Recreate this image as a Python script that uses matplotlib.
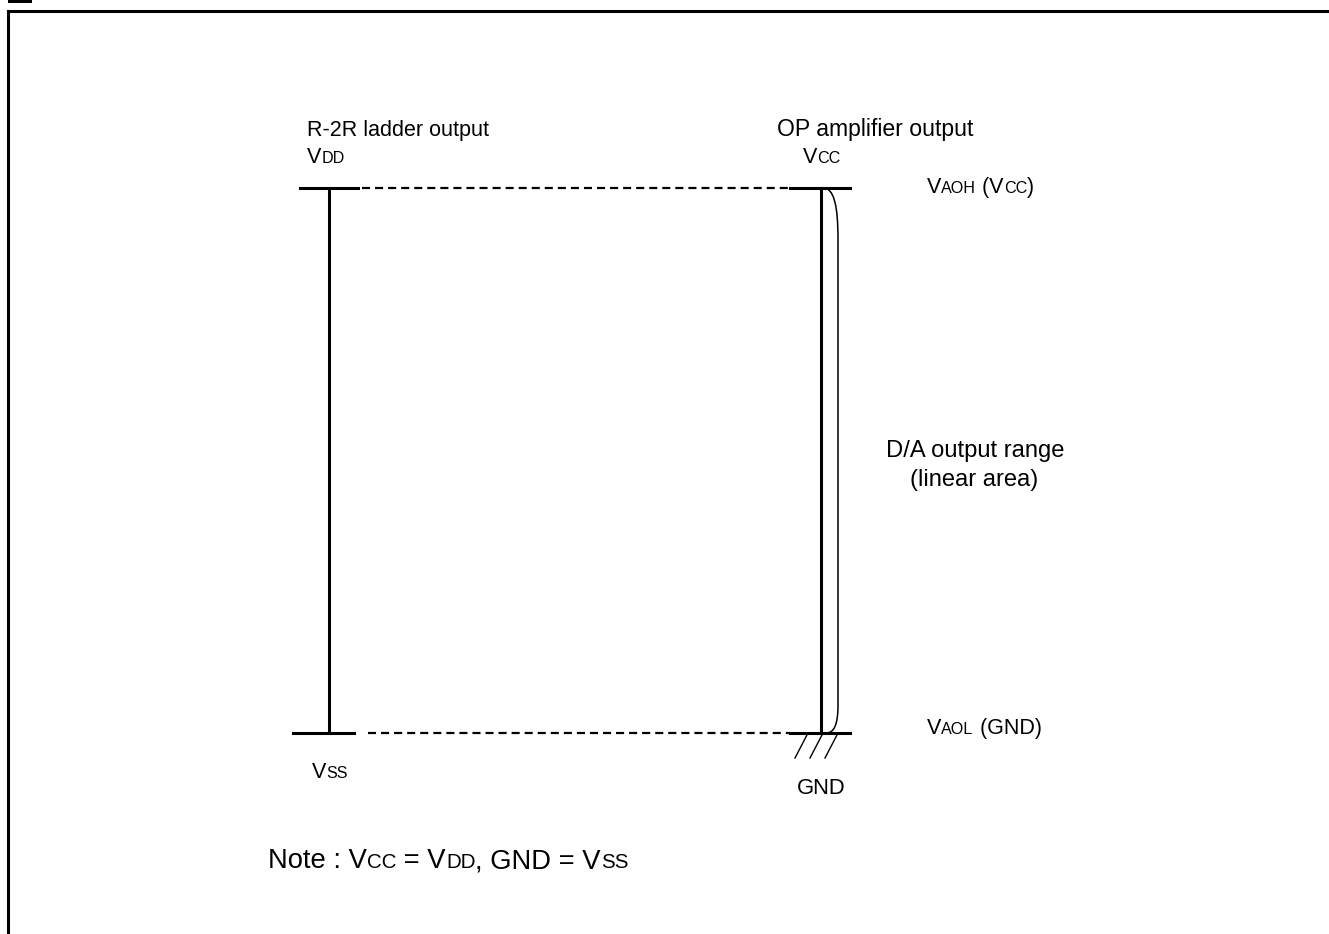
import matplotlib
matplotlib.use("Agg")
import matplotlib.pyplot as plt
from matplotlib.path import Path
from matplotlib.patches import PathPatch, Rectangle

plt.rcParams['font.family'] = ['Liberation Sans', 'DejaVu Sans']
plt.rcParams['lines.scale_dashes'] = False

# levels of the two rails (pixel rows) and column positions
y_high = 188
y_low = 733
x_ladder = 329
x_opamp = 821

# text items: (x, baseline y, [(text, small?) ...], font size, align)
labels = [
    (307, 136, [("R-2R ladder output", False)], 15.5, 'left'),
    (307, 163, [("V", False), ("DD", True)], 15.5, 'left'),
    (777, 136, [("OP amplifier output", False)], 16.6, 'left'),
    (803, 163, [("V", False), ("CC", True)], 15.5, 'left'),
    (927, 193, [("V", False), ("AOH", True), (" (V", False), ("CC", True), (")", False)], 15.5, 'left'),
    (975, 457, [("D/A output range", False)], 17.1, 'center'),
    (974, 486, [("(linear area)", False)], 17.1, 'center'),
    (927, 734, [("V", False), ("AOL", True), (" (GND)", False)], 15.5, 'left'),
    (312, 778, [("V", False), ("SS", True)], 15.5, 'left'),
    (797, 794, [("GND", False)], 15.8, 'left'),
]
note = [("Note : V", False), ("CC", True), (" = V", False), ("DD", True),
        (", GND = V", False), ("SS", True)]

W, H = 1329, 934
fig = plt.figure(figsize=(W / 100, H / 100), dpi=100)
ax = fig.add_axes([0, 0, 1, 1])
ax.set_xlim(0, W)
ax.set_ylim(H, 0)
ax.axis('off')

renderer = fig.canvas.get_renderer()


def mixed(x, y, parts, size, ha='left'):
    small = size * 0.75
    items = []
    total = 0
    for s, sm in parts:
        t = ax.text(0, y, s, fontsize=small if sm else size, va='baseline', ha='left')
        w = t.get_window_extent(renderer).width
        items.append((t, w))
        total += w
    if ha == 'center':
        x = x - total / 2
    for t, w in items:
        t.set_x(x)
        x += w


thick = 2.2
# frame and header marker
ax.plot([8, W], [11, 11], color='black', lw=thick, solid_capstyle='projecting')
ax.plot([8, 8], [11, H], color='black', lw=thick, solid_capstyle='projecting')
ax.add_patch(Rectangle((8, 0), 24, 3, color='black', lw=0))

# ladder rail
ax.plot([300, 358], [y_high, y_high], color='black', lw=thick)
ax.plot([x_ladder, x_ladder], [y_high, y_low], color='black', lw=thick)
ax.plot([293, 354], [y_low, y_low], color='black', lw=thick)

# dashed connections
ax.plot([362, 790], [y_high, y_high], color='black', lw=1.6, dashes=(5.8, 3.6))
ax.plot([368, 790], [y_low, y_low], color='black', lw=1.6, dashes=(5.8, 3.6))

# op-amp rail
ax.plot([790, 850], [y_high, y_high], color='black', lw=thick)
ax.plot([x_opamp, x_opamp], [y_high, y_low], color='black', lw=thick)
ax.plot([790, 850], [y_low, y_low], color='black', lw=thick)

# ground hatch
for x0 in [795, 810, 825]:
    ax.plot([x0, x0 + 13], [758, y_low], color='black', lw=1.0)

# bracket for output range
verts = [(823, y_high), (834, y_high), (838, 205), (838, 240),
         (838, 690), (838, 690), (838, 705),
         (838, 725), (834, y_low), (826, y_low)]
codes = [Path.MOVETO, Path.CURVE4, Path.CURVE4, Path.CURVE4,
         Path.LINETO, Path.LINETO, Path.LINETO,
         Path.CURVE4, Path.CURVE4, Path.CURVE4]
ax.add_patch(PathPatch(Path(verts, codes), fill=False, lw=1.1, color='black'))

for x, y, parts, size, ha in labels:
    mixed(x, y, parts, size, ha)
mixed(268, 868, note, 19.7)

fig.savefig("out.png", dpi=100)
